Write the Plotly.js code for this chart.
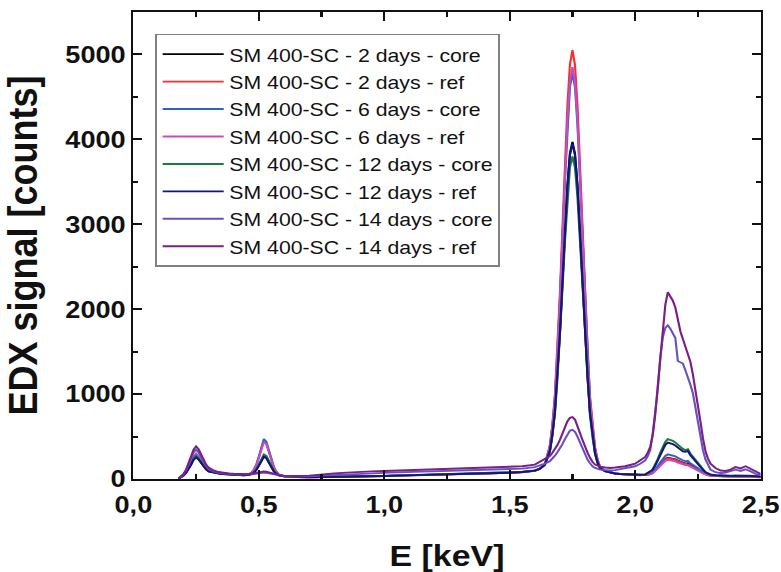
<!DOCTYPE html>
<html>
<head>
<meta charset="utf-8">
<script src="https://cdn.plot.ly/plotly-3.0.1.min.js"></script>
<style>
html,body{margin:0;padding:0;background:#fff;overflow:hidden;}
#chart{width:691px;height:572px;transform:scaleX(1.130246);transform-origin:0 0;}
</style>
</head>
<body>
<div id="chart"></div>
<script>
// Energy grid [keV]
const energy = [0.18,0.19,0.20,0.21,0.22,0.23,0.24,0.25,0.26,0.27,0.28,0.29,0.30,
0.32,0.34,0.36,0.38,0.40,0.42,0.44,
0.46,0.47,0.48,0.49,0.50,0.51,0.52,0.53,0.54,0.55,0.56,0.57,0.58,
0.60,0.62,
0.65,0.70,0.75,0.80,0.85,0.90,0.95,1.00,1.05,1.10,1.15,1.20,1.25,1.30,1.35,1.40,1.45,1.50,1.55,1.60,
1.62,1.64,
1.66,1.67,1.68,1.69,1.70,1.71,1.72,1.73,1.74,1.75,1.76,1.77,1.78,1.79,1.80,1.81,1.82,1.83,1.84,1.85,1.86,
1.88,1.90,1.92,1.94,1.96,1.98,2.00,2.02,2.04,
2.05,2.06,2.07,2.08,2.09,2.10,2.11,2.12,2.13,2.14,2.15,2.16,2.17,2.18,2.19,2.20,2.21,2.22,2.23,2.24,2.25,2.26,2.27,2.28,2.29,2.30,
2.32,2.34,2.36,2.38,2.40,2.42,2.44,2.46,2.48,2.50];

const names = ["SM 400-SC - 2 days - core","SM 400-SC - 2 days - ref","SM 400-SC - 6 days - core","SM 400-SC - 6 days - ref",
"SM 400-SC - 12 days - core","SM 400-SC - 12 days - ref","SM 400-SC - 14 days - core","SM 400-SC - 14 days - ref"];

const d2core = [5,21,42,73,117,172,231,260,234,192,148,114,91,
75,66,58,54,50,47,45,
49,58,77,109,160,224,270,253,199,141,93,63,44,
33,27,
24,22,23,25,27,30,33,36,40,43,47,50,53,57,60,64,68,73,82,98,
120,168,
332,526,797,1222,1725,2325,2925,3467,3838,3970,3833,3462,2915,2315,1710,1207,777,506,307,195,128,
92,74,64,58,54,50,48,47,50,
52,59,74,100,134,170,203,235,250,246,239,231,216,201,192,181,185,162,147,130,112,91,72,57,48,41,
36,33,31,30,32,34,33,30,26,22];

const d2ref = [6,22,44,77,124,182,245,275,248,204,157,121,96,
78,68,60,55,51,48,46,
56,73,106,163,253,368,450,419,325,222,137,83,50,
34,28,
23,21,22,24,26,29,32,35,39,42,46,49,52,56,59,63,67,72,80,96,
118,166,
397,645,991,1536,2179,2946,3714,4407,4882,5050,4877,4402,3704,2936,2164,1521,971,625,372,228,144,
96,76,65,58,53,49,46,45,48,
50,57,72,98,130,166,198,230,245,242,233,226,210,195,186,176,172,158,143,126,108,88,70,55,46,40,
35,32,30,29,31,32,31,28,25,21];

const d6core = [6,23,46,81,131,191,258,290,261,215,165,128,102,
80,69,61,56,52,49,47,
57,74,109,169,264,384,470,438,339,230,141,85,51,
34,28,
24,22,23,25,28,31,34,37,41,44,48,51,54,58,61,65,69,74,83,99,
121,170,
381,615,942,1457,2066,2791,3516,4172,4621,4780,4616,4167,3506,2781,2051,1442,922,595,356,220,140,
95,76,66,59,55,51,49,48,51,
55,63,81,112,152,196,234,272,290,285,277,267,249,231,221,208,215,185,168,147,127,101,78,60,50,43,
37,34,32,31,33,35,34,31,27,23];

const d6ref = [6,24,48,84,135,198,267,300,270,222,171,132,105,
82,70,62,57,52,49,47,
56,72,104,160,248,360,440,410,318,217,134,81,49,
33,28,
23,21,22,24,27,30,33,36,40,43,47,50,53,57,60,64,68,73,81,97,
119,167,
385,623,955,1478,2095,2831,3568,4233,4689,4850,4684,4228,3558,2821,2080,1463,935,603,360,222,141,
94,75,65,58,53,49,47,46,49,
48,54,68,92,122,154,183,212,225,221,214,207,193,180,172,163,160,146,133,117,101,83,66,52,44,38,
34,31,29,28,30,31,30,28,24,20];

const d12core = [5,22,44,77,124,181,245,275,247,204,157,121,96,
78,67,59,55,51,48,46,
50,60,80,115,170,240,290,272,213,150,98,65,45,
33,27,
24,22,23,25,28,31,34,37,41,44,48,51,55,58,62,66,70,75,84,100,
122,170,
322,507,766,1173,1654,2228,2801,3319,3674,3800,3669,3314,2791,2218,1639,1158,746,487,297,190,126,
93,75,66,60,56,53,51,51,55,
74,87,117,169,238,311,375,440,470,461,448,431,401,371,354,340,350,300,264,229,195,152,113,83,66,53,
45,41,39,38,40,42,41,38,34,30];

const d12ref = [5,20,41,71,115,168,227,255,230,189,145,112,89,
73,64,57,53,49,46,44,
49,57,75,106,155,216,260,244,192,136,90,61,43,
32,26,
23,21,22,24,27,30,33,36,40,43,47,50,54,57,61,65,69,74,83,99,
121,169,
331,524,793,1217,1717,2314,2911,3450,3819,3950,3814,3445,2901,2304,1702,1202,773,504,306,194,128,
92,74,65,59,55,52,50,50,53,
71,83,110,157,219,286,344,403,430,422,410,395,368,340,325,320,330,280,243,212,180,141,106,79,63,52,
44,40,38,37,39,41,40,37,33,29];

const d14core = [6,25,55,100,165,240,315,345,315,260,200,155,120,
90,74,65,60,56,52,50,
50,54,58,64,70,74,76,72,66,58,50,44,40,
34,30,
30,32,40,48,55,62,68,72,78,82,85,88,92,96,100,104,108,112,122,140,
160,180,
210,240,275,315,360,410,470,530,570,580,555,500,430,360,290,230,185,150,130,120,110,
105,100,105,115,125,135,150,180,220,
270,340,540,800,1050,1430,1670,1780,1810,1770,1720,1660,1390,1370,1360,1280,1200,1110,1010,840,660,490,340,230,160,110,
80,70,75,90,110,95,115,90,60,45];

const d14ref = [8,30,60,110,180,260,345,385,350,290,220,170,135,
100,82,72,66,62,58,56,
58,62,68,75,82,88,90,86,78,68,58,50,45,
40,36,
35,40,55,65,75,85,90,95,100,105,110,112,115,120,125,130,135,140,150,170,
200,230,
270,310,350,400,460,530,610,680,720,730,700,630,540,460,380,310,250,200,170,155,145,
135,130,135,140,150,165,180,220,260,
310,380,520,760,1100,1450,1750,2050,2200,2150,2100,2020,1880,1740,1650,1560,1480,1380,1230,1060,880,680,480,330,240,180,
130,100,95,110,140,125,150,120,80,60];

const series = [d2core,d2ref,d6core,d6ref,d12core,d12ref,d14core,d14ref];
const colors = ["#000000","#ff2a2a","#2f5fcf","#c14fc0","#1a7d3c","#14147a","#6a4fc4","#7a1f84"];

const traces = series.map((ys,i)=>({
  x: energy, y: ys, type:'scatter', mode:'lines', name: names[i],
  line:{color:colors[i], width:1.9}
}));

const axisCommon = {
  ticks:'inside', tickwidth:2, tickcolor:'#111',
  showline:true, linewidth:2, linecolor:'#111', mirror:'allticks',
  showgrid:false, zeroline:false,
  tickfont:{family:'Arial', size:24, weight:'bold', color:'#111'}
};

const layout = {
  width:691, height:572,
  margin:{l:117.7, r:17.7, t:12, b:93},
  paper_bgcolor:'#fff', plot_bgcolor:'#fff',
  separators:',.',
  showlegend:true,
  legend:{x:0.035, y:0.953, xanchor:'left', yanchor:'top', bgcolor:'#fff',
    bordercolor:'#808080', borderwidth:1.5, tracegroupgap:0, itemwidth:54,
    font:{family:'Arial', size:18.8, color:'#111'}},
  xaxis:Object.assign({}, axisCommon, {
    range:[0,2.5], tick0:0, dtick:0.5, tickformat:'.1f', ticklen:9, ticklabelstandoff:3,
    minor:{dtick:0.25, ticks:'inside', ticklen:5, tickwidth:2, tickcolor:'#111', showgrid:false},
    title:{text:'E [keV]', font:{family:'Arial', size:30, weight:'bold', color:'#111'}}
  }),
  yaxis:Object.assign({}, axisCommon, {
    range:[0,5500], tick0:0, dtick:1000, tickformat:'d', ticklen:8,
    minor:{dtick:500, ticks:'inside', ticklen:4.5, tickwidth:2, tickcolor:'#111', showgrid:false},
    title:{text:'EDX signal [counts]', standoff:25,
      font:{family:'Arial', size:36, weight:'bold', color:'#111'}}
  })
};

Plotly.newPlot('chart', traces, layout, {displayModeBar:false, staticPlot:true});
</script>
</body>
</html>
